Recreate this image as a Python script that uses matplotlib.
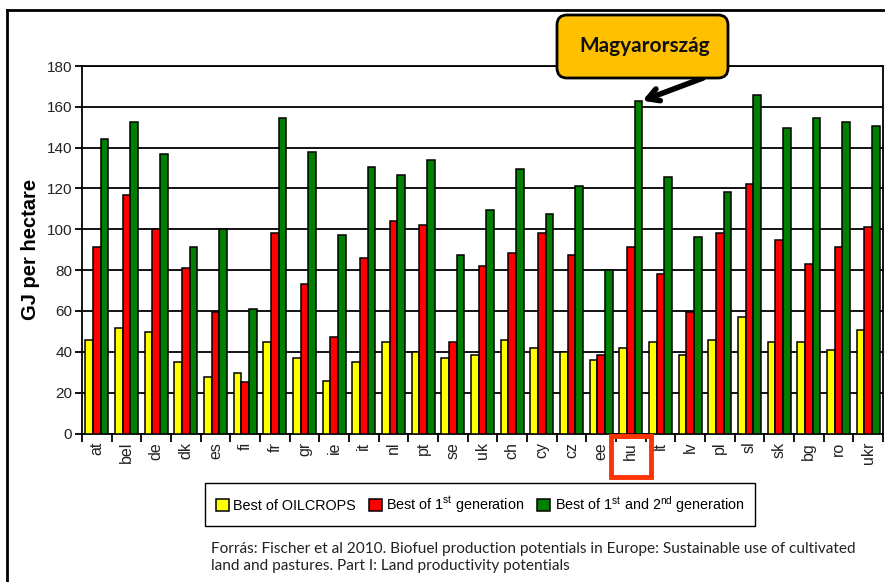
import numpy as np
import matplotlib
matplotlib.use('Agg')
import matplotlib.pyplot as plt
import matplotlib.transforms as mtransforms
from matplotlib.patches import FancyBboxPatch, Rectangle
from matplotlib.lines import Line2D

countries = ['at', 'bel', 'de', 'dk', 'es', 'fi', 'fr', 'gr', 'ie', 'it', 'nl', 'pt', 'se', 'uk',
             'ch', 'cy', 'cz', 'ee', 'hu', 'lt', 'lv', 'pl', 'sl', 'sk', 'bg', 'ro', 'ukr']
oilcrops = [46, 51.5, 49.5, 35, 27.5, 29.5, 45, 37, 25.5, 35, 45, 40, 37, 38.5,
            46, 42, 40, 36, 42, 45, 38.5, 46, 57, 45, 45, 41, 50.5]
first_gen = [91.5, 117, 100, 81, 59.5, 25, 98, 73, 47.5, 86, 104, 102, 45, 82,
             88.5, 98, 87.5, 38.5, 91.5, 78, 59.5, 98, 122, 95, 83, 91.5, 101]
first_second_gen = [144, 152.5, 137, 91.5, 100, 61, 154.5, 138, 97, 130.5, 126.5, 134, 87.5, 109.5,
                    129.5, 107.5, 121, 80, 163, 125.5, 96, 118.5, 166, 149.5, 154.5, 152.5, 150.5]
series_labels = ['Best of OILCROPS',
                 'Best of 1$^{st}$ generation',
                 'Best of 1$^{st}$ and 2$^{nd}$ generation']
y_ticks = list(range(0, 181, 20))
highlight = 'hu'
callout_text = 'Magyarország'
source_text = ('Forrás: Fischer et al 2010. Biofuel production potentials in Europe: Sustainable use of cultivated\n'
               'land and pastures. Part I: Land productivity potentials')

plt.rcParams['font.family'] = ['Liberation Sans', 'DejaVu Sans']
plt.rcParams['mathtext.default'] = 'regular'

W, H = 885, 582
fig = plt.figure(figsize=(W / 100, H / 100), dpi=100)
ax = fig.add_axes([82 / W, 1 - 433.5 / H, (883 - 82) / W, (433.5 - 66) / H])

x = np.arange(len(countries))
w = 0.26
colors = ['#FFFF00', '#FF0000', '#008000']
bars = []
for k, vals in enumerate([oilcrops, first_gen, first_second_gen]):
    b = ax.bar(x + (k - 1) * w, vals, w, color=colors[k], edgecolor='black', linewidth=1.1, zorder=3)
    bars.append(b)

ax.set_xlim(-0.5, len(countries) - 0.5)
ax.set_ylim(0, 180)
ax.set_yticks(y_ticks)
ax.grid(axis='y', color='black', linewidth=1.3, zorder=0)
ax.set_axisbelow(True)
for s in ax.spines.values():
    s.set_color('black')
    s.set_linewidth(1.3)

ax.set_xticks(x)
ax.set_xticklabels(countries, rotation=90, fontsize=11.5, color='#222222')
ax.set_xticks(np.arange(-0.5, len(countries), 1), minor=True)
ax.tick_params(axis='x', which='major', length=0, pad=6)
ax.tick_params(axis='x', which='minor', length=6, width=1.3, color='black')
ax.tick_params(axis='y', length=5, width=1.3, labelsize=11, labelcolor='#222222', pad=2)
ax.set_ylabel('GJ per hectare', fontsize=14.5, fontweight='bold')
ax.yaxis.set_label_coords((40 - 82) / 801, 0.5)

# outer frame of the slide
fig.add_artist(Line2D([7 / W, 7 / W], [0, 1 - 10 / H], transform=fig.transFigure, color='black', lw=2))
fig.add_artist(Line2D([7 / W, 1], [1 - 10 / H, 1 - 10 / H], transform=fig.transFigure, color='black', lw=2))

# legend
fig.legend(bars, series_labels, loc='center', bbox_to_anchor=(480 / W, 1 - 504.5 / H), ncol=3,
           frameon=True, fancybox=False, edgecolor='black', framealpha=1, fontsize=10.4,
           handlelength=0.9, handleheight=0.9, handletextpad=0.3, columnspacing=0.9, borderpad=0.75)

# callout
hi = countries.index(highlight)
box = FancyBboxPatch((5.57, (H - 78) / 100), 1.71, 0.63, boxstyle='round,pad=0,rounding_size=0.1',
                     transform=fig.dpi_scale_trans, facecolor='#FFC000', edgecolor='black', lw=2)
fig.add_artist(box)
fig.text(645 / W, 1 - 46 / H, callout_text, ha='center', va='center', fontsize=15,
         fontweight='bold', family=['Lato', 'DejaVu Sans'], color='#111111')
ax.annotate('', xy=(hi + 1.5 * w, first_second_gen[hi]), xycoords='data',
            xytext=(703 / W, 1 - 78 / H), textcoords='figure fraction', annotation_clip=False,
            arrowprops=dict(arrowstyle='->,head_length=0.8,head_width=0.45', lw=4, color='black',
                            shrinkA=0, shrinkB=0))

# red box around highlighted label
blend = mtransforms.blended_transform_factory(ax.transData, fig.transFigure)
fig.add_artist(Rectangle((hi - 0.66, 1 - 477 / H), 1.35, 41 / H, transform=blend, fill=False,
                         edgecolor='#FF3300', lw=3.5, clip_on=False))

fig.text(211 / W, 1 - 542 / H, source_text, ha='left', va='top', fontsize=11.1,
         family=['Lato', 'DejaVu Sans'], color='#222222', linespacing=1.25)

fig.savefig('out.png', dpi=100)
